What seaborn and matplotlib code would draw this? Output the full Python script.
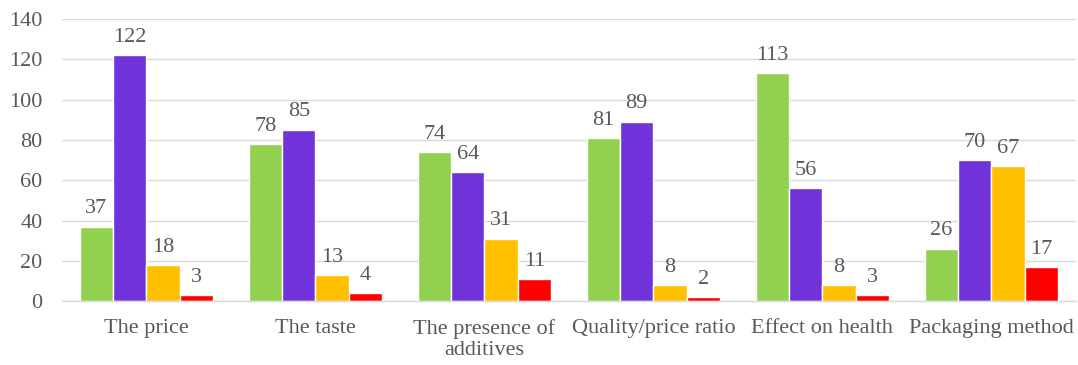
import matplotlib
matplotlib.use("Agg")
import matplotlib.pyplot as plt
import seaborn as sns
import pandas as pd
import numpy as np

# Survey counts per purchase criterion
categories = ["The price", "The taste", "The presence of\nadditives",
              "Quality/price ratio", "Effect on health", "Packaging method"]
series_names = ["Series 1", "Series 2", "Series 3", "Series 4"]
series_1 = [37, 78, 74, 81, 113, 26]
series_2 = [122, 85, 64, 89, 56, 70]
series_3 = [18, 13, 31, 8, 8, 67]
series_4 = [3, 4, 11, 2, 3, 17]
y_ticks = [0, 20, 40, 60, 80, 100, 120, 140]

palette = ["#92D050", "#7033DA", "#FFC000", "#FF0000"]

rows = []
for name, vals in zip(series_names, [series_1, series_2, series_3, series_4]):
    for cat, v in zip(categories, vals):
        rows.append({"category": cat, "series": name, "value": v})
df = pd.DataFrame(rows)

sns.set_theme(style="white")
plt.rcParams["font.family"] = ["Liberation Serif", "DejaVu Serif"]
text_color = "#595959"
fs = 16

fig = plt.figure(figsize=(10.78, 3.65), dpi=100)
ax = fig.add_axes([0.0575, 0.175, 0.9405, 0.773])

sns.barplot(data=df, x="category", y="value", hue="series", order=categories,
            hue_order=series_names, palette=palette, width=0.79,
            edgecolor="white", linewidth=1.0, saturation=1, ax=ax,
            legend=False, errorbar=None)

for cont in ax.containers:
    ax.bar_label(cont, padding=6, fontsize=fs, color=text_color)

ax.set_ylim(0, 140)
ax.set_yticks(y_ticks)
ax.set_xlim(-0.5, len(categories) - 0.5)
ax.yaxis.grid(True, color="#D9D9D9", linewidth=1.0)
ax.set_axisbelow(True)
ax.set_xlabel("")
ax.set_ylabel("")

for side in ["left", "right", "top"]:
    ax.spines[side].set_visible(False)
ax.spines["bottom"].set_color("#D9D9D9")
ax.spines["bottom"].set_linewidth(1.0)

ax.tick_params(axis="y", length=0, labelsize=fs, labelcolor=text_color, pad=14)
ax.tick_params(axis="x", which="major", length=0, labelsize=fs,
               labelcolor=text_color, pad=13)
ax.set_xticks(np.arange(-0.5, len(categories) + 0.5, 1.0), minor=True)
ax.tick_params(axis="x", which="minor", length=6, width=1.0, color="#D9D9D9",
               direction="out")
for lbl in ax.get_xticklabels():
    lbl.set_linespacing(1.15)

fig.savefig("out.png", dpi=100)
